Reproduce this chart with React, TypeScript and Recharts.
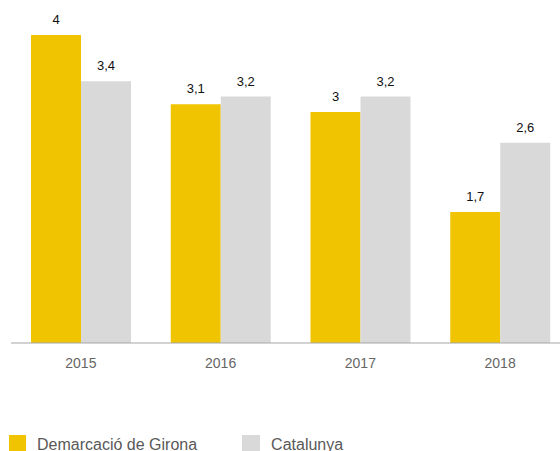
import React from 'react';
import { BarChart, Bar, XAxis, YAxis, LabelList } from 'recharts';

const years = ['2015', '2016', '2017', '2018'];
const girona = [4, 3.1, 3, 1.7];
const catalunya = [3.4, 3.2, 3.2, 2.6];

const YELLOW = '#F0C400';
const GREY = '#D9D9D9';

const data = years.map((year, i) => ({ year, girona: girona[i], catalunya: catalunya[i] }));

const fmt = (v: any) => String(v).replace('.', ',');

const App: React.FC = () => {
  return (
    <div style={{ position: 'fixed', left: 0, top: 0, width: 560, height: 451, overflow: 'hidden', background: '#fff' }}>
      <BarChart
        width={580}
        height={451}
        data={data}
        margin={{ top: 35, right: 10, left: 11, bottom: 78 }}
        barGap={0}
        barSize={50}
      >
        <XAxis
          dataKey="year"
          axisLine={{ stroke: '#A6A6A6', strokeWidth: 1 }}
          tickLine={false}
          tickSize={6}
          tickMargin={9}
          height={30}
          tick={{ fill: '#666666', fontSize: 14, fontFamily: 'Liberation Sans, Arial, sans-serif' }}
        />
        <YAxis hide domain={[0, 4]} />
        <Bar dataKey="girona" fill={YELLOW} isAnimationActive={false}>
          <LabelList dataKey="girona" position="top" offset={11} formatter={fmt}
            style={{ fill: '#111', fontSize: 13, fontFamily: 'Liberation Sans, Arial, sans-serif' }} />
        </Bar>
        <Bar dataKey="catalunya" fill={GREY} isAnimationActive={false}>
          <LabelList dataKey="catalunya" position="top" offset={11} formatter={fmt}
            style={{ fill: '#111', fontSize: 13, fontFamily: 'Liberation Sans, Arial, sans-serif' }} />
        </Bar>
      </BarChart>
      <div style={{ position: 'absolute', left: 9, top: 435, display: 'flex', alignItems: 'flex-start', fontFamily: 'Liberation Sans, Arial, sans-serif', fontSize: 16, lineHeight: '18px', color: '#595959', whiteSpace: 'nowrap' }}>
        <span style={{ width: 17, height: 17, background: YELLOW, display: 'inline-block' }}></span>
        <span style={{ marginLeft: 11, marginTop: 1 }}>Demarcació de Girona</span>
        <span style={{ width: 18, height: 17, background: GREY, display: 'inline-block', marginLeft: 45 }}></span>
        <span style={{ marginLeft: 11, marginTop: 1 }}>Catalunya</span>
      </div>
    </div>
  );
};

export default App;
